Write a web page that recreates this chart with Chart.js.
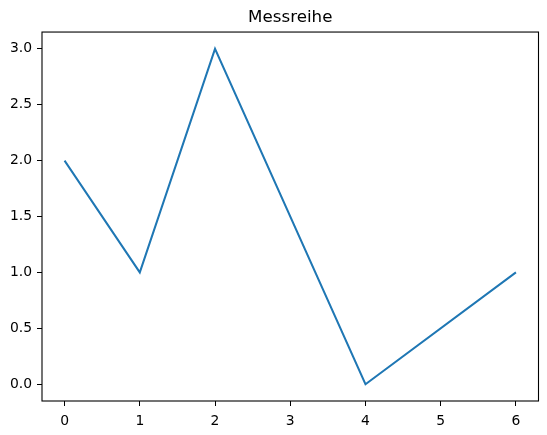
<!DOCTYPE html>
<html>
<head>
<meta charset="utf-8">
<script src="https://cdn.jsdelivr.net/npm/chart.js@4"></script>
<style>
    html, body { margin: 0; padding: 0; background: #ffffff; }
    #wrap { width: 547px; height: 435px; }
</style>
</head>
<body>
<div id="wrap"><canvas id="messChart" width="547" height="435"></canvas></div>
<script>
const xValues = [0, 1, 2, 4, 6];
const yValues = [2, 1, 3, 0, 1];
const xTicks = [0, 1, 2, 3, 4, 5, 6];
const yTicks = [0.0, 0.5, 1.0, 1.5, 2.0, 2.5, 3.0];
const chartTitle = 'Messreihe';

const tickFont = { family: 'DejaVu Sans', size: 13.9 };

// box round the plot area, like the axes frame
const frame = {
    id: 'frame',
    afterDatasetsDraw(chart) {
        const a = chart.chartArea;
        const ctx = chart.ctx;
        ctx.save();
        ctx.strokeStyle = '#000000';
        ctx.lineWidth = 1.1;
        ctx.strokeRect(a.left, a.top, a.right - a.left, a.bottom - a.top);
        ctx.restore();
    }
};

new Chart(document.getElementById('messChart').getContext('2d'), {
    type: 'line',
    data: {
        datasets: [{
            label: chartTitle,
            data: xValues.map((x, i) => ({ x: x, y: yValues[i] })),
            borderColor: '#1f77b4',
            borderWidth: 2,
            pointRadius: 0,
            tension: 0,
            fill: false
        }]
    },
    options: {
        responsive: false,
        animation: false,
        layout: { padding: { left: 0, right: 8.5, top: 0, bottom: 0 } },
        plugins: {
            legend: { display: false },
            tooltip: { enabled: false },
            title: {
                display: true,
                text: chartTitle,
                color: '#000000',
                fullSize: false,
                font: { family: 'DejaVu Sans', size: 16.7, weight: 'normal' },
                padding: { top: 8, bottom: 4 }
            }
        },
        scales: {
            x: {
                type: 'linear',
                min: -0.3,
                max: 6.3,
                afterBuildTicks: scale => { scale.ticks = xTicks.map(v => ({ value: v })); },
                afterFit: scale => { scale.height = 34; },
                border: { display: false },
                grid: { drawOnChartArea: false, tickLength: 5, tickColor: '#000000', tickWidth: 1 },
                ticks: { color: '#000000', font: tickFont, padding: 7, maxRotation: 0,
                    callback: v => String(v) }
            },
            y: {
                type: 'linear',
                min: -0.15,
                max: 3.15,
                afterBuildTicks: scale => { scale.ticks = yTicks.map(v => ({ value: v })); },
                afterFit: scale => { scale.width = 42; },
                border: { display: false },
                grid: { drawOnChartArea: false, tickLength: 5, tickColor: '#000000', tickWidth: 1 },
                ticks: { color: '#000000', font: tickFont, padding: 5,
                    callback: v => v.toFixed(1) }
            }
        }
    },
    plugins: [frame]
});
</script>
</body>
</html>
